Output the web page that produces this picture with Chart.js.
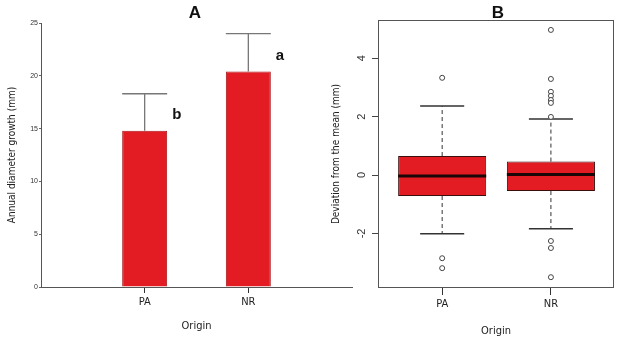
<!DOCTYPE html>
<html>
<head>
<meta charset="utf-8">
<script src="https://cdn.jsdelivr.net/npm/chart.js@4.4.1/dist/chart.umd.min.js"></script>
<style>
  html, body { margin: 0; padding: 0; background: #fff; overflow: hidden; }
  #wrap { position: relative; width: 619px; height: 337px; }
  #chartA { position: absolute; left: 0; top: 0; }
  #chartB { position: absolute; left: 310px; top: 0; }
</style>
</head>
<body>
<div id="wrap">
  <canvas id="chartA" width="360" height="337"></canvas>
  <canvas id="chartB" width="309" height="337"></canvas>
</div>
<script>
// panel A - annual diameter growth, mean + error bar
const categories = ['PA', 'NR'];
const growthMean = [14.8, 20.4];
const growthUpper = [18.3, 24.0];
const groupLetters = ['b', 'a'];
const growthTicks = [0, 5, 10, 15, 20, 25];

// panel B - deviation from the mean, box plot stats
const devWhiskerLow = [-2.01, -1.84];
const devQ1 = [-0.72, -0.55];
const devMedian = [-0.03, 0.02];
const devQ3 = [0.65, 0.46];
const devWhiskerHigh = [2.36, 1.92];
const devOutliersPA = [3.33, -2.85, -3.19];
const devOutliersNR = [4.97, 3.29, 2.85, 2.71, 2.57, 2.47, 1.99, -2.26, -2.5, -3.5];
const devTicks = [-2, 0, 2, 4];

const NARROW = "'Liberation Sans Narrow', 'Arial Narrow', 'DejaVu Sans Condensed', sans-serif";
const SANS = "'Liberation Sans', Arial, sans-serif";
const RED = '#e31c23';

function panelTitle(text, x, y) {
  return {
    id: 'panelTitle' + text,
    afterDraw(chart) {
      const ctx = chart.ctx;
      ctx.save();
      ctx.font = 'bold 17px ' + SANS;
      ctx.fillStyle = '#111';
      ctx.textAlign = 'center';
      ctx.textBaseline = 'middle';
      ctx.fillText(text, x, y);
      ctx.restore();
    }
  };
}

// error bars + significance letters for panel A
const errorBars = {
  id: 'errorBars',
  afterDatasetsDraw(chart) {
    const ctx = chart.ctx;
    const yScale = chart.scales.y;
    const meta = chart.getDatasetMeta(0);
    ctx.save();
    meta.data.forEach((bar, i) => {
      const half = bar.width / 2;
      const yTop = yScale.getPixelForValue(growthUpper[i]);
      ctx.strokeStyle = '#777';
      ctx.lineWidth = 1.3;
      ctx.beginPath();
      ctx.moveTo(bar.x, bar.y);
      ctx.lineTo(bar.x, yTop);
      ctx.moveTo(bar.x - half, yTop);
      ctx.lineTo(bar.x + half, yTop);
      ctx.stroke();
      ctx.fillStyle = '#111';
      ctx.font = 'bold 15px ' + SANS;
      ctx.textAlign = 'left';
      ctx.textBaseline = 'middle';
      ctx.fillText(groupLetters[i], bar.x + half + 5, yScale.getPixelForValue(growthMean[i] + 1.5));
    });
    ctx.restore();
  }
};

new Chart(document.getElementById('chartA'), {
  type: 'bar',
  data: {
    datasets: [{
      data: categories.map((c, i) => ({ x: i + 1, y: growthMean[i] })),
      backgroundColor: RED,
      borderColor: '#a8151a',
      borderWidth: 1,
      barPercentage: 0.434,
      categoryPercentage: 1
    }]
  },
  options: {
    responsive: false,
    animation: false,
    layout: { padding: { top: 23, right: 8, left: 0, bottom: 0 } },
    plugins: { legend: { display: false }, tooltip: { enabled: false } },
    scales: {
      x: {
        type: 'linear', min: 0, max: 3, offset: false,
        afterBuildTicks: s => { s.ticks = categories.map((c, i) => ({ value: i + 1 })); },
        afterFit: s => { s.height = 50; },
        grid: { offset: false, drawOnChartArea: false, drawTicks: true, tickLength: 6, tickColor: '#333', color: '#333' },
        border: { color: '#555' },
        ticks: { callback: v => categories[v - 1] || '', padding: 3, color: '#222', font: { family: NARROW, size: 11 } },
        title: { display: true, text: 'Origin', color: '#222', font: { family: NARROW, size: 11, lineHeight: 1 }, padding: { top: 0, bottom: 5 } }
      },
      y: {
        min: 0, max: 25,
        afterBuildTicks: s => { s.ticks = growthTicks.map(v => ({ value: v })); },
        afterFit: s => { s.width = 41; },
        grid: { drawOnChartArea: false, tickLength: 2, color: '#666' },
        border: { color: '#555' },
        ticks: { padding: 1, color: '#333', font: { family: SANS, size: 7 } },
        title: { display: true, text: 'Annual diameter growth (mm)', color: '#222', font: { family: NARROW, size: 10 }, padding: { top: 6, bottom: 0 } }
      }
    }
  },
  plugins: [errorBars, panelTitle('A', 195, 13)]
});

// whiskers, medians and frame for panel B
const boxParts = {
  id: 'boxParts',
  beforeDatasetsDraw(chart) {
    const ctx = chart.ctx;
    const yScale = chart.scales.y;
    const meta = chart.getDatasetMeta(0);
    ctx.save();
    ctx.strokeStyle = '#333';
    meta.data.forEach((box, i) => {
      const capHalf = box.width / 4;
      const yHi = yScale.getPixelForValue(devWhiskerHigh[i]);
      const yLo = yScale.getPixelForValue(devWhiskerLow[i]);
      ctx.lineWidth = 1;
      ctx.setLineDash([4, 3]);
      ctx.beginPath();
      ctx.moveTo(box.x, yScale.getPixelForValue(devQ3[i]));
      ctx.lineTo(box.x, yHi);
      ctx.moveTo(box.x, yScale.getPixelForValue(devQ1[i]));
      ctx.lineTo(box.x, yLo);
      ctx.stroke();
      ctx.setLineDash([]);
      ctx.lineWidth = 1.5;
      ctx.beginPath();
      ctx.moveTo(box.x - capHalf, yHi);
      ctx.lineTo(box.x + capHalf, yHi);
      ctx.moveTo(box.x - capHalf, yLo);
      ctx.lineTo(box.x + capHalf, yLo);
      ctx.stroke();
    });
    ctx.restore();
  },
  afterDatasetsDraw(chart) {
    const ctx = chart.ctx;
    const yScale = chart.scales.y;
    const meta = chart.getDatasetMeta(0);
    const a = chart.chartArea;
    ctx.save();
    ctx.strokeStyle = '#1a0606';
    ctx.lineWidth = 3;
    meta.data.forEach((box, i) => {
      const ym = yScale.getPixelForValue(devMedian[i]);
      ctx.beginPath();
      ctx.moveTo(box.x - box.width / 2, ym);
      ctx.lineTo(box.x + box.width / 2, ym);
      ctx.stroke();
    });
    ctx.strokeStyle = '#555';
    ctx.lineWidth = 1;
    ctx.strokeRect(a.left + 0.5, a.top + 0.5, a.right - a.left - 1, a.bottom - a.top - 1);
    ctx.restore();
  }
};

new Chart(document.getElementById('chartB'), {
  type: 'bar',
  data: {
    datasets: [
      {
        data: categories.map((c, i) => ({ x: i + 1, y: [devQ1[i], devQ3[i]] })),
        backgroundColor: RED,
        borderColor: '#3b0d0d',
        borderWidth: 1,
        borderSkipped: false,
        barPercentage: 0.81,
        categoryPercentage: 1
      },
      {
        type: 'scatter',
        data: devOutliersPA.map(v => ({ x: 1, y: v })).concat(devOutliersNR.map(v => ({ x: 2, y: v }))),
        pointRadius: 2.5,
        pointBackgroundColor: '#fff',
        pointBorderColor: '#444',
        pointBorderWidth: 1
      }
    ]
  },
  options: {
    responsive: false,
    animation: false,
    layout: { padding: { top: 20, right: 4, left: 0, bottom: 0 } },
    plugins: { legend: { display: false }, tooltip: { enabled: false } },
    scales: {
      x: {
        type: 'linear', min: 0.41, max: 2.58, offset: false,
        afterBuildTicks: s => { s.ticks = categories.map((c, i) => ({ value: i + 1 })); },
        afterFit: s => { s.height = 49; },
        grid: { offset: false, drawOnChartArea: false, drawTicks: true, tickLength: 7, tickColor: '#333', color: '#333' },
        border: { display: false },
        ticks: { callback: v => categories[v - 1] || '', padding: 3, color: '#222', font: { family: NARROW, size: 11 } },
        title: { display: true, text: 'Origin', color: '#222', font: { family: NARROW, size: 11, lineHeight: 1 }, padding: { top: 0, bottom: 0 } }
      },
      y: {
        min: -3.87, max: 5.31,
        afterBuildTicks: s => { s.ticks = devTicks.map(v => ({ value: v })); },
        afterFit: s => { s.width = 68; },
        grid: { drawOnChartArea: false, tickLength: 6, color: '#444' },
        border: { display: false },
        ticks: { padding: 5, crossAlign: 'center', minRotation: 90, maxRotation: 90, color: '#333', font: { family: SANS, size: 11 } },
        title: { display: true, text: 'Deviation from the mean (mm)', color: '#222', font: { family: NARROW, size: 10 }, padding: { top: 20, bottom: 0 } }
      }
    }
  },
  plugins: [boxParts, panelTitle('B', 188, 13)]
});
</script>
</body>
</html>
